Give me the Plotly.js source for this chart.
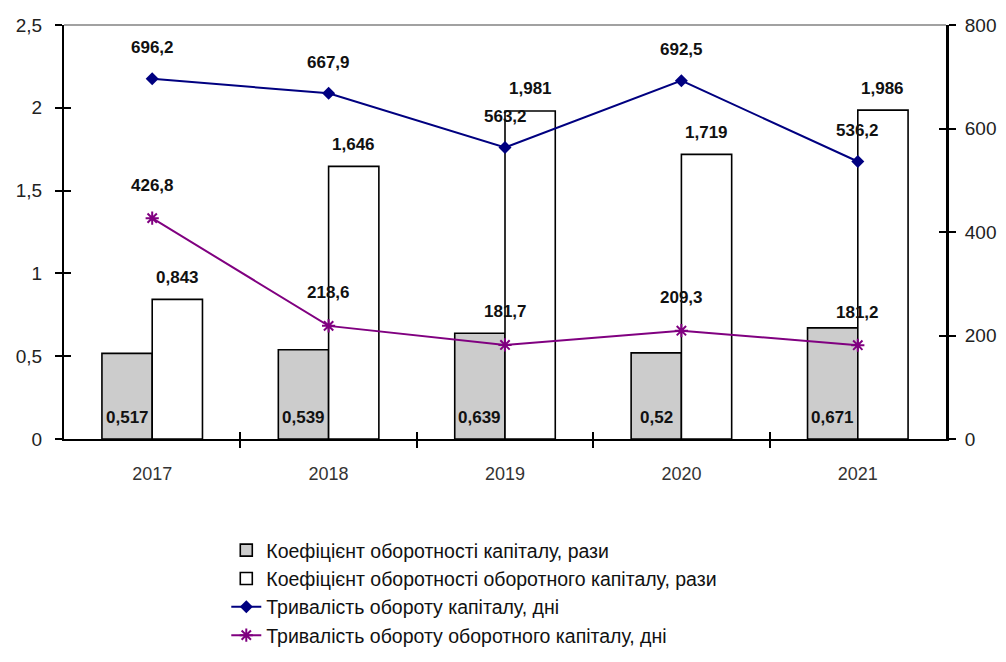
<!DOCTYPE html>
<html>
<head>
<meta charset="utf-8">
<script src="https://cdn.plot.ly/plotly-3.0.1.min.js"></script>
<style>html,body{margin:0;padding:0;background:#fff;}#chart{width:1006px;height:662px;}</style>
</head>
<body>
<div id="chart"></div>
<script>
const years = ['2017', '2018', '2019', '2020', '2021'];
const capitalTurnover = [0.517, 0.539, 0.639, 0.52, 0.671];
const workingCapitalTurnover = [0.843, 1.646, 1.981, 1.719, 1.986];
const capitalDuration = [696.2, 667.9, 563.2, 692.5, 536.2];
const workingCapitalDuration = [426.8, 218.6, 181.7, 209.3, 181.2];
const leftTicks = [0, 0.5, 1, 1.5, 2, 2.5];
const rightTicks = [0, 200, 400, 600, 800];

const names = [
  'Коефіцієнт оборотності капіталу, рази',
  'Коефіцієнт оборотності оборотного капіталу, рази',
  'Тривалість обороту капіталу, дні',
  'Тривалість обороту оборотного капіталу, дні'
];

const idx = years.map((_, i) => i);
const boundaries = idx.slice(1).map(i => i - 0.5);
const fmt = v => String(v).replace('.', ',');
const BARGAP = 0.43;
const half = (1 - BARGAP) / 4;

const traces = [
  {type: 'bar', name: names[0], x: idx, y: capitalTurnover,
   marker: {color: '#cccccc', line: {color: '#000', width: 1.6}}, hoverinfo: 'none'},
  {type: 'bar', name: names[1], x: idx, y: workingCapitalTurnover,
   marker: {color: '#ffffff', line: {color: '#000', width: 1.6}}, hoverinfo: 'none'},
  {type: 'scatter', mode: 'lines+markers', name: names[2], x: idx, y: capitalDuration, yaxis: 'y2',
   line: {color: '#000080', width: 2}, marker: {symbol: 'diamond', size: 10, color: '#000080'}, hoverinfo: 'none'},
  {type: 'scatter', mode: 'lines+markers', name: names[3], x: idx, y: workingCapitalDuration, yaxis: 'y2',
   line: {color: '#800080', width: 2}, marker: {symbol: 'asterisk-open', size: 11, line: {color: '#800080', width: 2}}, hoverinfo: 'none'},
  // empty helper traces so the overlay tick axes get drawn
  {type: 'scatter', x: [], y: [], xaxis: 'x2', yaxis: 'y3', showlegend: false, hoverinfo: 'none'},
  {type: 'scatter', x: [], y: [], xaxis: 'x3', yaxis: 'y4', showlegend: false, hoverinfo: 'none'}
];

const lblFont = {family: 'Liberation Sans, Arial, sans-serif', size: 17, color: '#111'};
const annotations = [];
idx.forEach(i => {
  annotations.push({xref: 'x', yref: 'y', x: i - half, y: 0, yanchor: 'middle', yshift: 22,
    text: '<b>' + fmt(capitalTurnover[i]) + '</b>', showarrow: false, font: lblFont});
  annotations.push({xref: 'x', yref: 'y', x: i + half, y: workingCapitalTurnover[i], yanchor: 'middle', yshift: 22,
    text: '<b>' + fmt(workingCapitalTurnover[i]) + '</b>', showarrow: false, font: lblFont});
  annotations.push({xref: 'x', yref: 'y2', x: i, y: capitalDuration[i], yanchor: 'middle', yshift: 31,
    text: '<b>' + fmt(capitalDuration[i]) + '</b>', showarrow: false, font: lblFont});
  annotations.push({xref: 'x', yref: 'y2', x: i, y: workingCapitalDuration[i], yanchor: 'middle', yshift: 33,
    text: '<b>' + fmt(workingCapitalDuration[i]) + '</b>', showarrow: false, font: lblFont});
});

const tickFont = {family: 'Liberation Sans, Arial, sans-serif', size: 19, color: '#222'};
const tickCommon = {tickcolor: '#000', tickwidth: 2, ticklen: 7, showgrid: false, zeroline: false, fixedrange: true};
const layout = {
  width: 1006, height: 662,
  margin: {l: 64, r: 60, t: 25, b: 223, autoexpand: false},
  paper_bgcolor: '#fff', plot_bgcolor: 'rgba(0,0,0,0)',
  separators: ', ',
  barmode: 'group', bargap: BARGAP, bargroupgap: 0,
  showlegend: true,
  legend: {x: 0.184, y: -0.222, xanchor: 'left', yanchor: 'top', orientation: 'v',
    font: {family: 'Liberation Sans, Arial, sans-serif', size: 19.5, color: '#111'},
    tracegroupgap: 0, traceorder: 'normal', bgcolor: 'rgba(0,0,0,0)', itemwidth: 30},
  xaxis: Object.assign({}, tickCommon, {range: [-0.5, 4.5], tickvals: idx, ticktext: years, ticks: '',
    showline: true, linecolor: '#000', linewidth: 1.5,
    tickfont: {family: 'Liberation Sans, Arial, sans-serif', size: 18, color: '#333'}, ticklabelstandoff: 18}),
  xaxis2: Object.assign({}, tickCommon, {overlaying: 'x', anchor: 'y3', side: 'bottom', range: [-0.5, 4.5],
    tickvals: boundaries, ticks: 'outside', ticklen: 8, showticklabels: false, showline: false}),
  xaxis3: Object.assign({}, tickCommon, {overlaying: 'x', anchor: 'y4', side: 'bottom', range: [-0.5, 4.5],
    tickvals: boundaries, ticks: 'inside', showticklabels: false, showline: false}),
  yaxis: Object.assign({}, tickCommon, {range: [0, 2.5], tickvals: leftTicks, showline: true, linecolor: '#000', linewidth: 2,
    ticks: 'outside', tickfont: tickFont, ticklabelstandoff: 9}),
  yaxis3: Object.assign({}, tickCommon, {overlaying: 'y', anchor: 'x2', side: 'left', range: [0, 2.5], tickvals: leftTicks,
    showline: false, ticks: 'inside', showticklabels: false}),
  yaxis2: Object.assign({}, tickCommon, {overlaying: 'y', side: 'right', anchor: 'x', range: [0, 800], tickvals: rightTicks,
    showline: true, linecolor: '#000', linewidth: 3, ticks: 'outside', tickfont: tickFont, ticklabelstandoff: 5}),
  yaxis4: Object.assign({}, tickCommon, {overlaying: 'y', side: 'right', anchor: 'x3', range: [0, 800], tickvals: rightTicks,
    showline: false, ticks: 'inside', showticklabels: false}),
  shapes: [{type: 'line', xref: 'paper', yref: 'paper', x0: 0, x1: 1, y0: 1, y1: 1, line: {color: '#444', width: 1.2}}],
  annotations: annotations
};

Plotly.newPlot('chart', traces, layout, {displayModeBar: false, staticPlot: true});
</script>
</body>
</html>
